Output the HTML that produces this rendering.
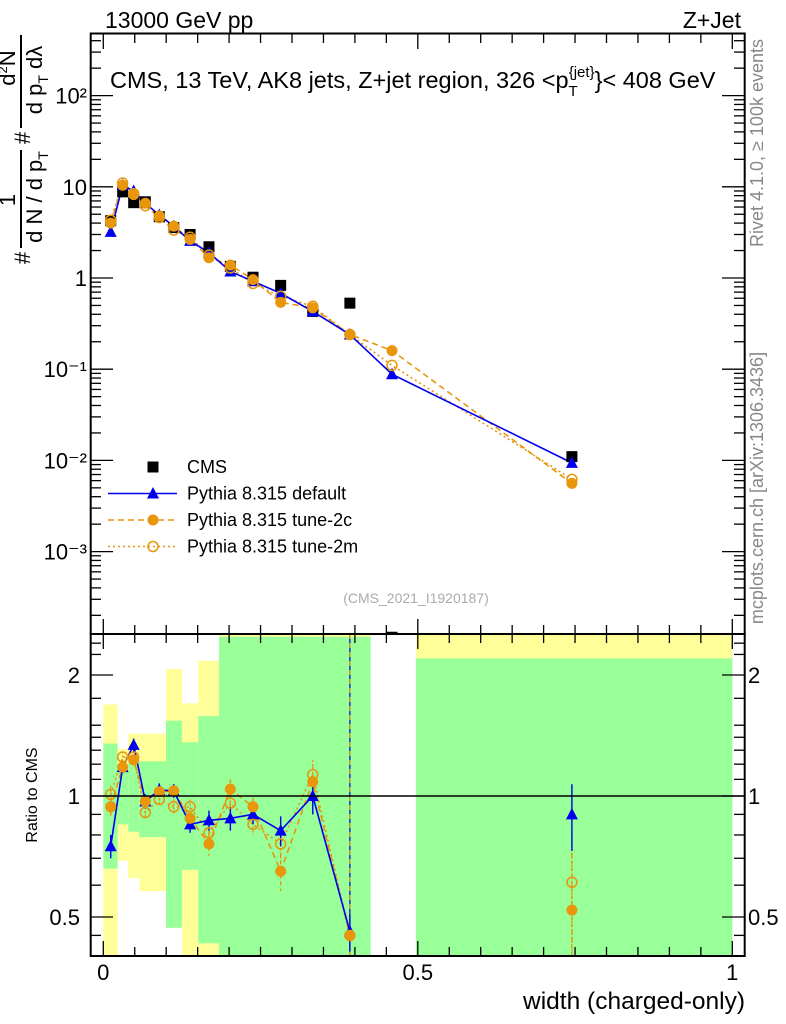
<!DOCTYPE html>
<html><head><meta charset="utf-8"><style>
html,body{margin:0;padding:0;background:#fff;}
svg{display:block;font-family:"Liberation Sans",sans-serif;}
</style></head><body>
<svg id="chart" width="786" height="1024" viewBox="0 0 786 1024" xmlns="http://www.w3.org/2000/svg">
<defs>
<clipPath id="cm"><rect x="91" y="34" width="653" height="600"/></clipPath>
<clipPath id="cr"><rect x="91" y="634" width="653" height="322"/></clipPath>
</defs>
<g id="bands" clip-path="url(#cr)"></g>
<g id="ticks"></g>
<g id="marks-main" clip-path="url(#cm)"></g>
<g id="marks-ratio" clip-path="url(#cr)"></g>
<rect x="90.7" y="33.5" width="654" height="600.5" fill="none" stroke="#000" stroke-width="2"/>
<rect x="90.7" y="634" width="654" height="322" fill="none" stroke="#000" stroke-width="2"/>
<line x1="91" x2="744" y1="796" y2="796" stroke="#000" stroke-width="1.5"/>
<g id="labels"></g>
<text x="105" y="28" font-size="23">13000 GeV pp</text>
<text x="741" y="28" font-size="23" text-anchor="end">Z+Jet</text>
<text x="110" y="88" font-size="23.5">CMS, 13 TeV, AK8 jets, Z+jet region, 326 &lt;p<tspan font-size="15" dy="8">T</tspan><tspan font-size="15" dy="-19" dx="-9">{jet}</tspan><tspan dy="11">}&lt; 408 GeV</tspan></text>
<text x="416" y="603" font-size="14" fill="#aaa" text-anchor="middle">(CMS_2021_I1920187)</text>
<text transform="translate(763,143) rotate(-90)" font-size="18" fill="#888" text-anchor="middle">Rivet 4.1.0, ≥ 100k events</text>
<text transform="translate(763,488) rotate(-90)" font-size="18" fill="#888" text-anchor="middle">mcplots.cern.ch [arXiv:1306.3436]</text>
<g font-size="22" transform="rotate(-90)">
<text x="-258" y="30" text-anchor="middle">#</text>
<text x="-200" y="15" text-anchor="middle">1</text>
<line x1="-150" x2="-248" y1="21" y2="21" stroke="#000" stroke-width="2"/>
<text x="-197" y="42" text-anchor="middle">d N / d p<tspan font-size="14" dy="6">T</tspan></text>
<text x="-138" y="30" text-anchor="middle">#</text>
<text x="-68" y="15" text-anchor="middle">d<tspan font-size="13" dy="-8">2</tspan><tspan dy="8">N</tspan></text>
<line x1="-35" x2="-128" y1="21" y2="21" stroke="#000" stroke-width="2"/>
<text x="-80" y="42" text-anchor="middle">d p<tspan font-size="14" dy="6">T</tspan><tspan dy="-6"> dλ</tspan></text>
</g>
<text transform="translate(37,795) rotate(-90)" font-size="16" text-anchor="middle">Ratio to CMS</text>
<text x="745" y="1009" font-size="24.5" text-anchor="end">width (charged-only)</text>
<g id="legend" font-size="18"></g>
</svg>
<script>
const xVals=[0.0118,0.0308,0.0483,0.0668,0.089,0.112,0.138,0.168,0.202,0.238,0.282,0.333,0.392,0.459,0.745];
const cmsVals=[4.25,8.8,6.7,6.85,4.7,3.57,3.0,2.2,1.34,1.02,0.83,0.43,0.53,0.000115,0.011];
const defVals=[3.2,10.4,9.0,6.6,4.9,3.7,2.55,1.9,1.18,0.92,0.68,0.43,0.24,0.088,0.0094];
const t2cVals=[4.0,10.4,8.2,6.6,4.8,3.7,2.65,1.67,1.39,0.96,0.54,0.47,0.24,0.16,0.0056];
const t2mVals=[4.3,11.0,8.4,6.2,4.6,3.35,2.8,1.78,1.29,0.87,0.63,0.49,0.24,0.11,0.0062];
const defRatio=[0.75,1.18,1.34,0.97,1.035,1.03,0.85,0.87,0.88,0.90,0.82,1.0,0.46,null,0.9];
const t2cRatio=[0.94,1.18,1.23,0.97,1.025,1.03,0.88,0.76,1.04,0.94,0.65,1.085,0.45,null,0.52];
const t2mRatio=[1.01,1.25,1.25,0.91,0.98,0.94,0.94,0.81,0.96,0.85,0.76,1.13,0.45,null,0.61];
const defErr=[0.05,0.04,0.05,0.04,0.04,0.04,0.04,0.05,0.06,0.05,0.07,0.1,0.05,null,0.17];
const t2cErr=[0.05,0.04,0.04,0.03,0.03,0.04,0.04,0.05,0.06,0.05,0.07,0.1,0.05,null,0.2];
const binEdges=[0,0.0229,0.0397,0.0572,0.0997,0.125,0.151,0.184,0.425,0.497,1.0];
const yelLo=[0.3,0.69,0.625,0.58,0.47,0.3,0.3,0.3,null,0.3];
const yelHi=[1.69,1.31,1.43,1.43,2.07,1.70,2.17,3,null,3];
const grnLo=[0.66,0.85,0.815,0.79,0.47,0.655,0.43,0.3,null,0.3];
const grnHi=[1.35,1.16,1.22,1.22,1.54,1.36,1.58,2.49,null,2.2];
const mainTickExps=[-3,-2,-1,0,1,2];
const mainTickLabels=["10⁻³","10⁻²","10⁻¹","1","10","10²"];
const ratioMinor=[0.45,0.6,0.7,0.8,0.9,1.1,1.2,1.3,1.4,1.5,1.75,2.25,2.4];
const ratioMajor=[0.5,1,2];
const ratioLabels=["0.5","1","2"];
const xMajor=[0,0.5,1];
const xLabels=["0","0.5","1"];

const NS="http://www.w3.org/2000/svg";
const X=x=>103.3+629*x;
const YM=v=>278-91.2*Math.log10(v);
const YR=r=>796-121*Math.log2(r);
function mk(tag,attrs,parent){const e=document.createElementNS(NS,tag);for(const k in attrs)e.setAttribute(k,attrs[k]);parent.appendChild(e);return e;}
const BLUE="#0000ee",ORANGE="#e8960c";
const bands=document.getElementById('bands');
for(let i=0;i<binEdges.length-1;i++){
  if(yelHi[i]===null)continue;
  const x0=X(binEdges[i]),x1=X(binEdges[i+1]);
  let r=mk('rect',{x:x0,width:x1-x0,y:YR(yelHi[i]),height:YR(yelLo[i])-YR(yelHi[i]),fill:'#ffff99'},bands);
  
  
  r=mk('rect',{x:x0,width:x1-x0,y:YR(grnHi[i]),height:YR(grnLo[i])-YR(grnHi[i]),fill:'#99ff99'},bands);
  
  
}
const ticks=document.getElementById('ticks');
const labels=document.getElementById('labels');
function tk(x1,y1,x2,y2){const l=mk('line',{x1,y1,x2,y2,stroke:'#000','stroke-width':1.3},ticks);
  
  }
for(let k=0;k<=20;k++){const x=k*0.05,px=X(x);const big=(k%10===0);const L=big?15:9;
  tk(px,34,px,34+L);tk(px,634,px,634-L);tk(px,634,px,634+L);tk(px,956,px,956-L);}
xMajor.forEach((v,i)=>{const t=mk('text',{x:X(v),y:980,'text-anchor':'middle','font-size':22},labels);t.textContent=xLabels[i];
  
  });
for(let e=-4;e<=2;e++){for(let m=1;m<10;m++){const v=m*Math.pow(10,e);const py=YM(v);if(py<34||py>634)continue;const L=m===1?22:10;tk(91,py,91+L,py);tk(744,py,744-L,py);}}
mainTickExps.forEach((e,i)=>{const t=mk('text',{x:87,y:YM(Math.pow(10,e))+8,'text-anchor':'end','font-size':22},labels);t.textContent=mainTickLabels[i];
  
  });
ratioMinor.forEach(r=>{const py=YR(r);tk(91,py,101,py);tk(744,py,734,py);});
ratioMajor.forEach((r,i)=>{const py=YR(r);tk(91,py,113,py);tk(744,py,722,py);
  let t=mk('text',{x:80,y:py+8,'text-anchor':'end','font-size':22},labels);t.textContent=ratioLabels[i];
  
  
  t=mk('text',{x:748,y:py+8,'font-size':22},labels);t.textContent=ratioLabels[i];
  
  });

function marker(g,type,cx,cy,color){
  let e;
  if(type==='sq')e=mk('rect',{x:cx-5.5,y:cy-5.5,width:11,height:11,fill:'#000'},g);
  else if(type==='tri')e=mk('polygon',{points:`${cx},${cy-6.5} ${cx-6},${cy+5} ${cx+6},${cy+5}`,fill:color},g);
  else if(type==='dot')e=mk('circle',{cx,cy,r:5.5,fill:color},g);
  else e=mk('circle',{cx,cy,r:5,fill:'none',stroke:color,'stroke-width':1.5},g);
  
  
}
function line(g,pts,color,dash,name){
  const p=mk('polyline',{points:pts.map(q=>q.join(',')).join(' '),fill:'none',stroke:color,'stroke-width':1.6,'stroke-dasharray':dash},g);
  
  
}
const gm=document.getElementById('marks-main');
line(gm,xVals.map((x,i)=>[X(x),YM(t2mVals[i])]),ORANGE,'2,3','tune-2m-line');
line(gm,xVals.map((x,i)=>[X(x),YM(t2cVals[i])]),ORANGE,'6,4','tune-2c-line');
line(gm,xVals.map((x,i)=>[X(x),YM(defVals[i])]),BLUE,'none','default-line');
xVals.forEach((x,i)=>{marker(gm,'sq',X(x),YM(cmsVals[i]));});
xVals.forEach((x,i)=>{marker(gm,'tri',X(x),YM(defVals[i]),BLUE);marker(gm,'dot',X(x),YM(t2cVals[i]),ORANGE);marker(gm,'ring',X(x),YM(t2mVals[i]),ORANGE);});

const gr=document.getElementById('marks-ratio');
function rline(arr,color,dash,name){
  const pts=[];for(let i=0;i<=12;i++)pts.push([X(xVals[i]),YR(arr[i])]);
  line(gr,pts,color,dash,name);
}
rline(t2mRatio,ORANGE,'2,3','tune-2m-ratio-line');
rline(t2cRatio,ORANGE,'6,4','tune-2c-ratio-line');
rline(defRatio,BLUE,'none','default-ratio-line');
let vl=mk('line',{x1:X(xVals[12]),x2:X(xVals[12]),y1:634,y2:956,stroke:BLUE,'stroke-width':1.2},gr);


vl=mk('line',{x1:X(xVals[12]),x2:X(xVals[12]),y1:634,y2:956,stroke:ORANGE,'stroke-width':1.2,'stroke-dasharray':'5,4'},gr);


function ebar(x,r,e,color,dash){if(r===null)return;
  const l=mk('line',{x1:X(x),x2:X(x),y1:YR(r+e),y2:YR(Math.max(r-e,0.05)),stroke:color,'stroke-width':1.4,'stroke-dasharray':dash},gr);
  
  }
xVals.forEach((x,i)=>{ebar(x,t2cRatio[i],t2cErr[i],ORANGE,'4,3');ebar(x,t2mRatio[i],t2cErr[i],ORANGE,'2,2');ebar(x,defRatio[i],defErr[i],BLUE,'none');});
xVals.forEach((x,i)=>{if(defRatio[i]===null)return;
  marker(gr,'tri',X(x),YR(defRatio[i]),BLUE);marker(gr,'dot',X(x),YR(t2cRatio[i]),ORANGE);marker(gr,'ring',X(x),YR(t2mRatio[i]),ORANGE);});

const lg=document.getElementById('legend');
const entries=[['CMS','sq',null,null],['Pythia 8.315 default','tri',BLUE,'none'],['Pythia 8.315 tune-2c','dot',ORANGE,'6,4'],['Pythia 8.315 tune-2m','ring',ORANGE,'2,3']];
entries.forEach((en,i)=>{const y=467+i*26.5;
  const g=mk('g',{},lg);
  
  
  if(en[2]){mk('line',{x1:108,x2:177,y1:y,y2:y,stroke:en[2],'stroke-width':1.6,'stroke-dasharray':en[3]},g);}
  marker(g,en[1],153,y,en[2]);
  const t=mk('text',{x:187,y:y+6},g);t.textContent=en[0];
});
</script>
</body></html>
